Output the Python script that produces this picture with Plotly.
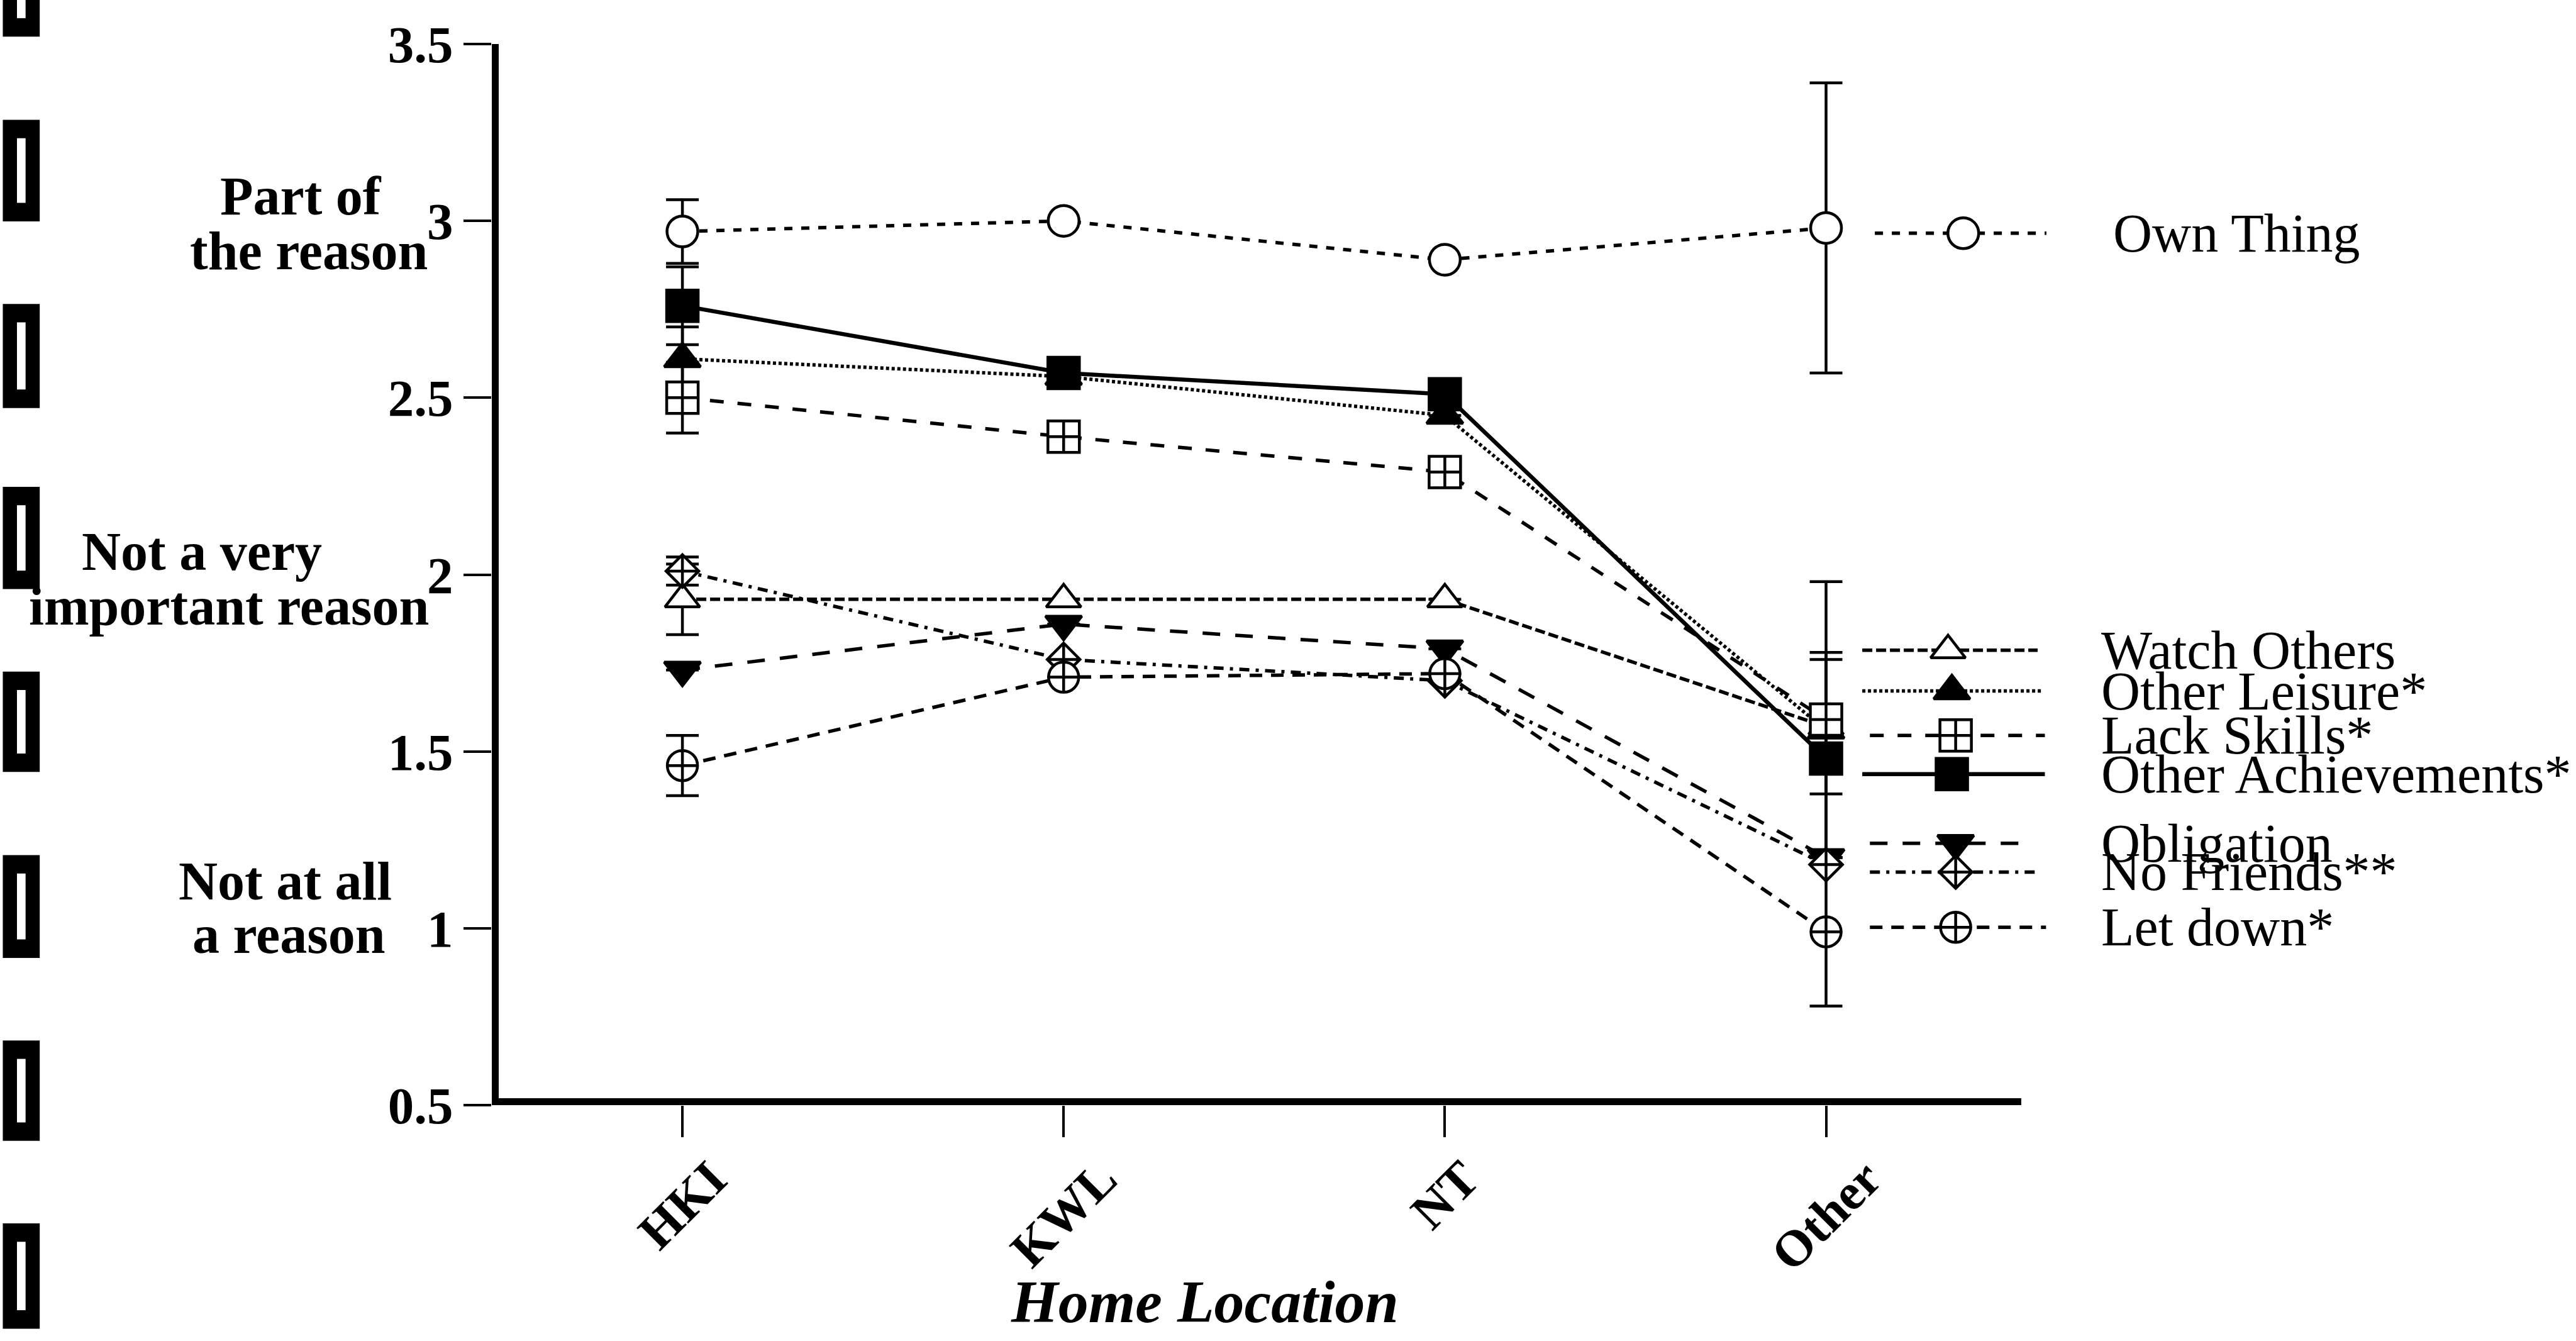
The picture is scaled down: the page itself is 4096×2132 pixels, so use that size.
import plotly.graph_objects as go

# ---------------- data ----------------
categories = ["HKI", "KWL", "NT", "Other"]

own_thing = [2.97, 3.00, 2.89, 2.98]
watch_others = [1.93, 1.93, 1.93, 1.57]
other_leisure = [2.61, 2.56, 2.45, 1.56]
lack_skills = [2.50, 2.39, 2.29, 1.59]
other_achievements = [2.76, 2.57, 2.51, 1.48]
obligation = [1.73, 1.86, 1.79, 1.20]
no_friends = [2.01, 1.76, 1.70, 1.18]
let_down = [1.46, 1.71, 1.72, 0.99]

own_thing_err = [0.09, None, None, 0.41]
watch_others_err = [0.10, None, None, 0.19]
other_leisure_err = [0.09, None, None, None]
lack_skills_err = [0.10, None, None, 0.39]
other_achievements_err = [0.11, None, None, 0.30]
obligation_err = [None, None, None, None]
no_friends_err = [0.04, None, None, None]
let_down_err = [0.085, None, None, 0.21]

series_names = ["Own Thing", "Watch Others", "Other Leisure*", "Lack Skills*",
                "Other Achievements*", "Obligation", "No Friends**", "Let down*"]

y_tick_vals = [0.5, 1, 1.5, 2, 2.5, 3, 3.5]
y_tick_text = ["0.5", "1", "1.5", "2", "2.5", "3", "3.5"]

x_title = "Home Location"
y_level_labels = ["Part of", "the reason", "Not a very", "important reason",
                  "Not at all", "a reason"]

# ---------------- layout geometry ----------------
W, H = 4096, 2132
S = 0.979
FONT = "Liberation Serif"

PLOT_L = 798.4 * S
UNIT_X = 619.3 * S
X_MIN, X_MAX = -0.5, 4.7
Y_MIN, Y_MAX = 0.5, 3.5
PLOT_W = (X_MAX - X_MIN) * UNIT_X
PLOT_T = 72 * S
PLOT_BOT = 1795 * S
PLOT_H = PLOT_BOT - PLOT_T
MARGIN_R = W - PLOT_L - PLOT_W
MARGIN_B = H - PLOT_BOT


def px(xf):
    return (xf * S - PLOT_L) / PLOT_W


def py(yf):
    return (PLOT_BOT - yf * S) / PLOT_H


# ---------------- styles ----------------
LW = 5.5
styles = {
    "Own Thing": dict(dash="13px,14px", width=LW, symbol="circle", size=49, color="white"),
    "Watch Others": dict(dash="16px,6px", width=LW, symbol="triangle-up", size=48, color="white"),
    "Other Leisure*": dict(dash="5px,4px", width=LW, symbol="triangle-up", size=50, color="black"),
    "Lack Skills*": dict(dash="22px,22px", width=LW, symbol="square-cross", size=50, color="white"),
    "Other Achievements*": dict(dash="solid", width=6.5, symbol="square", size=50, color="black"),
    "Obligation": dict(dash="28px,24px", width=LW, symbol="triangle-down", size=50, color="black"),
    "No Friends**": dict(dash="16px,10px,5px,10px", width=LW, symbol="diamond-cross", size=40, color="white"),
    "Let down*": dict(dash="20px,14px", width=LW, symbol="circle-cross", size=48, color="white"),
}

values = [own_thing, watch_others, other_leisure, lack_skills,
          other_achievements, obligation, no_friends, let_down]
errors = [own_thing_err, watch_others_err, other_leisure_err, lack_skills_err,
          other_achievements_err, obligation_err, no_friends_err, let_down_err]

# legend sample placement (data units)
legend_y = [2.965, 1.786, 1.671, 1.545, 1.436, 1.240, 1.159, 1.003]
leg_x0 = [3.128, 3.095, 3.095, 3.115, 3.095, 3.115, 3.115, 3.115]
leg_x1 = [3.578, 3.555, 3.568, 3.574, 3.574, 3.540, 3.562, 3.577]
leg_xm = [3.36, 3.32, 3.33, 3.34, 3.33, 3.34, 3.34, 3.34]
leg_label_x = [3.749, 3.719, 3.719, 3.719, 3.719, 3.719, 3.719, 3.719]

xs = list(range(len(categories)))

fig = go.Figure()

# lines with error bars
for name, vals, errs in zip(series_names, values, errors):
    st = styles[name]
    fig.add_trace(go.Scatter(
        x=xs, y=vals, mode="lines",
        line=dict(color="black", width=st["width"], dash=st["dash"]),
        error_y=dict(type="data", array=errs, symmetric=True, visible=True,
                     color="black", thickness=4.5, width=26),
        showlegend=False, hoverinfo="skip"))

# legend sample lines
for i, name in enumerate(series_names):
    st = styles[name]
    fig.add_trace(go.Scatter(
        x=[leg_x0[i], leg_x1[i]], y=[legend_y[i], legend_y[i]], mode="lines",
        line=dict(color="black", width=st["width"], dash=st["dash"]),
        showlegend=False, hoverinfo="skip"))

# markers (data + legend)
for i, (name, vals) in enumerate(zip(series_names, values)):
    st = styles[name]
    fig.add_trace(go.Scatter(
        x=xs + [leg_xm[i]], y=vals + [legend_y[i]], mode="markers",
        marker=dict(symbol=st["symbol"], size=st["size"], color=st["color"],
                    line=dict(color="black", width=4.5)),
        showlegend=False, name=name))

annotations = []
# legend labels
for i, name in enumerate(series_names):
    annotations.append(dict(
        x=leg_label_x[i], y=legend_y[i], xref="x", yref="y", text=name,
        showarrow=False, xanchor="left", yanchor="middle",
        font=dict(family=FONT, size=86, color="black")))

# x tick labels (rotated)
for i, c in enumerate(categories):
    annotations.append(dict(
        x=i, y=Y_MIN, xref="x", yref="y", text="<b>%s</b>" % c,
        showarrow=False, textangle=-45, xanchor="center", yanchor="top",
        yshift=-68, font=dict(family=FONT, size=81, color="black")))

# x axis title
annotations.append(dict(
    x=px(1956), y=py(2114), xref="paper", yref="paper",
    text="<b><i>%s</i></b>" % x_title, showarrow=False,
    xanchor="center", yanchor="middle",
    font=dict(family=FONT, size=96, color="black")))

# y level labels
level_pos = [(488, 319), (501, 408), (327, 896), (371, 985), (463, 1431), (469, 1518)]
for txt, (xf, yf) in zip(y_level_labels, level_pos):
    annotations.append(dict(
        x=px(xf), y=py(yf), xref="paper", yref="paper",
        text="<b>%s</b>" % txt, showarrow=False,
        xanchor="center", yanchor="middle",
        font=dict(family=FONT, size=86, color="black")))

# axis lines as shapes
AX_W = 22
half = (AX_W / 2) / UNIT_X
shapes = [
    dict(type="line", xref="x", yref="y", x0=X_MIN, x1=X_MIN, y0=Y_MIN, y1=Y_MAX + 0.015,
         line=dict(color="black", width=AX_W), layer="above"),
    dict(type="line", xref="x", yref="y", x0=X_MIN - half, x1=3.5 + 0.012, y0=Y_MIN, y1=Y_MIN,
         line=dict(color="black", width=AX_W), layer="above"),
]

# binder holes along the left edge (scan decoration)
holes = [(-40, 60), (195, 360), (494, 663), (791, 957), (1091, 1254),
         (1389, 1556), (1690, 1853), (1987, 2158)]
for y0, y1 in holes:
    shapes.append(dict(type="rect", xref="paper", yref="paper",
                       x0=px(4), x1=px(64), y0=py(y1), y1=py(y0),
                       fillcolor="black", line=dict(width=0), layer="above"))
    shapes.append(dict(type="rect", xref="paper", yref="paper",
                       x0=px(27), x1=px(41), y0=py(y1 - 30), y1=py(y0 + 30),
                       fillcolor="white", line=dict(width=0), layer="above"))

fig.update_layout(
    width=W, height=H,
    margin=dict(l=PLOT_L, r=MARGIN_R, t=PLOT_T, b=MARGIN_B, pad=0),
    paper_bgcolor="white", plot_bgcolor="white",
    showlegend=False,
    annotations=annotations, shapes=shapes,
    xaxis=dict(range=[X_MIN, X_MAX], tickvals=xs, showticklabels=False,
               ticks="outside", ticklen=50, tickwidth=4, tickcolor="black",
               showgrid=False, zeroline=False, showline=False, fixedrange=True),
    yaxis=dict(range=[Y_MIN, Y_MAX], tickvals=y_tick_vals, ticktext=y_tick_text,
               ticks="outside", ticklen=44, tickwidth=4, tickcolor="black",
               tickfont=dict(family=FONT, size=83, color="black", weight="bold"),
               showgrid=False, zeroline=False, showline=False, fixedrange=True),
)

fig.write_html("out.html")
